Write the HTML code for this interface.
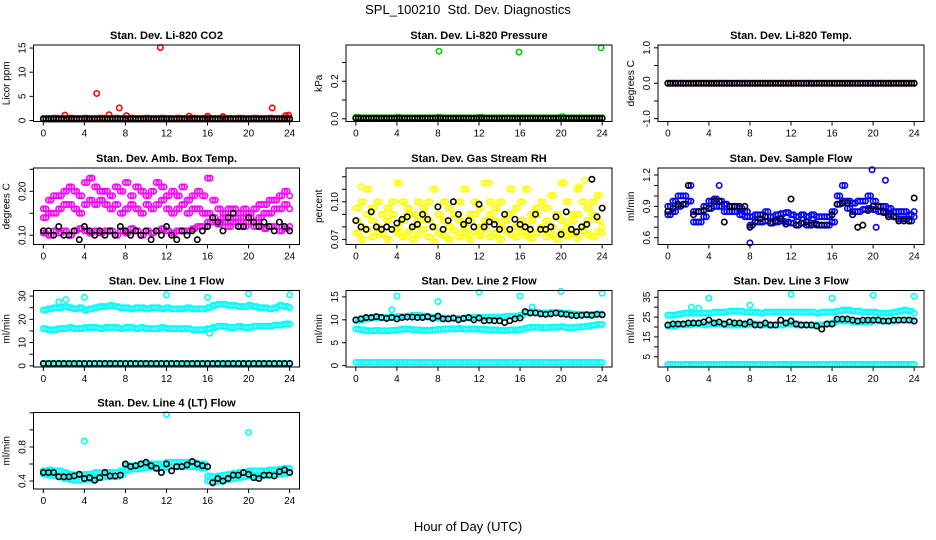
<!DOCTYPE html>
<html><head><meta charset="utf-8"><style>
html,body{margin:0;padding:0;background:#fff;}
svg{display:block;font-family:"Liberation Sans",Arial,sans-serif;}
</style></head><body>
<svg id="chart" width="936" height="540" viewBox="0 0 936 540" xmlns="http://www.w3.org/2000/svg">
<rect width="936" height="540" fill="#fff"/>
<text x="468" y="14" text-anchor="middle" font-size="13">SPL_100210&#160;&#160;Std. Dev. Diagnostics</text>
<text x="468" y="531" text-anchor="middle" font-size="13">Hour of Day (UTC)</text>
</svg>
<script>
const hours=[0,0.5,1,1.5,2,2.5,3,3.5,4,4.5,5,5.5,6,6.5,7,7.5,8,8.5,9,9.5,10,10.5,11,11.5,12,12.5,13,13.5,14,14.5,15,15.5,16,16.5,17,17.5,18,18.5,19,19.5,20,20.5,21,21.5,22,22.5,23,23.5,24];
const hoursMid=[0.25,0.75,1.25,1.75,2.25,2.75,3.25,3.75,4.25,4.75,5.25,5.75,6.25,6.75,7.25,7.75,8.25,8.75,9.25,9.75,10.25,10.75,11.25,11.75,12.25,12.75,13.25,13.75,14.25,14.75,15.25,15.75,16.25,16.75,17.25,17.75,18.25,18.75,19.25,19.75,20.25,20.75,21.25,21.75,22.25,22.75,23.25,23.75];
const xTicks=[0,4,8,12,16,20,24];
// CO2
const co2Base=[0.4,0.4,0.5,0.4,0.4,0.5,0.4,0.4,0.5,0.4,0.4,0.5,0.4,0.4,0.5,0.4,0.4,0.5,0.4,0.4,0.5,0.4,0.4,0.5,0.4,0.4,0.5,0.4,0.4,0.5,0.4,0.4,0.5,0.4,0.4,0.5,0.4,0.4,0.5,0.4,0.4,0.5,0.4,0.4,0.5,0.4,0.4,0.5,0.4];
const co2Black=[0.3,0.3,0.3,0.3,0.3,0.3,0.3,0.3,0.3,0.3,0.3,0.3,0.3,0.3,0.3,0.3,0.3,0.3,0.3,0.3,0.3,0.3,0.3,0.3,0.3,0.3,0.3,0.3,0.3,0.3,0.3,0.3,0.3,0.3,0.3,0.3,0.3,0.3,0.3,0.3,0.3,0.3,0.3,0.3,0.3,0.3,0.3,0.3,0.3];
const co2OutH=[2.1,5.2,6.4,7.4,8.1,11.4,14.2,16,17.5,22.3,23.6,23.9];
const co2OutV=[1.1,5.6,1.2,2.6,1.0,15.1,0.9,0.9,0.8,2.6,1.0,1.1];
// Pressure
const presBase=[0.008,0.005,0.005,0.005,0.005,0.005,0.005,0.005,0.008,0.005,0.005,0.005,0.005,0.005,0.005,0.005,0.008,0.005,0.005,0.005,0.005,0.005,0.005,0.005,0.008,0.005,0.005,0.005,0.005,0.005,0.005,0.005,0.005,0.005,0.005,0.005,0.005,0.005,0.005,0.005,0.01,0.005,0.005,0.005,0.005,0.005,0.005,0.005,0.005];
const presBlack=[0.003,0.003,0.003,0.003,0.003,0.003,0.003,0.003,0.003,0.003,0.003,0.003,0.003,0.003,0.003,0.003,0.003,0.003,0.003,0.003,0.003,0.003,0.003,0.003,0.003,0.003,0.003,0.003,0.003,0.003,0.003,0.003,0.003,0.003,0.003,0.003,0.003,0.003,0.003,0.003,0.003,0.003,0.003,0.003,0.003,0.003,0.003,0.003,0.003];
const presOutH=[8.1,15.9,23.9];
const presOutV=[0.36,0.355,0.378];
// Temp
const tempBase=[0,0,0,0,0,0,0,0,0,0,0,0,0,0,0,0,0,0,0,0,0,0,0,0,0,0,0,0,0,0,0,0,0,0,0,0,0,0,0,0,0,0,0,0,0,0,0,0,0];
// Amb box temp
const ambA=[0.16,0.18,0.19,0.19,0.20,0.21,0.20,0.19,0.22,0.23,0.21,0.20,0.20,0.19,0.21,0.20,0.22,0.19,0.21,0.20,0.19,0.20,0.22,0.21,0.19,0.20,0.19,0.21,0.18,0.19,0.20,0.19,0.23,0.18,0.16,0.15,0.16,0.16,0.15,0.16,0.15,0.16,0.17,0.17,0.18,0.18,0.19,0.20,0.19];
const ambB=[0.14,0.15,0.15,0.16,0.17,0.17,0.16,0.15,0.17,0.18,0.17,0.18,0.17,0.16,0.17,0.15,0.16,0.17,0.16,0.15,0.17,0.16,0.17,0.18,0.16,0.15,0.16,0.17,0.15,0.16,0.16,0.15,0.15,0.14,0.13,0.14,0.13,0.14,0.13,0.14,0.14,0.13,0.14,0.15,0.15,0.16,0.16,0.17,0.16];
const ambC=[0.105,0.10,0.11,0.105,0.11,0.10,0.11,0.115,0.11,0.105,0.11,0.105,0.11,0.11,0.10,0.11,0.105,0.115,0.11,0.10,0.11,0.105,0.11,0.115,0.11,0.105,0.11,0.11,0.11,0.115,0.12,0.12,0.13,0.13,0.125,0.13,0.12,0.13,0.12,0.12,0.13,0.12,0.12,0.115,0.12,0.12,0.11,0.115,0.12];
const ambBlack=[0.11,0.11,0.10,0.12,0.10,0.10,0.11,0.09,0.12,0.11,0.10,0.11,0.10,0.11,0.10,0.12,0.11,0.10,0.11,0.10,0.11,0.09,0.11,0.10,0.12,0.10,0.09,0.11,0.10,0.11,0.09,0.11,0.12,0.14,0.13,0.11,0.14,0.15,0.12,0.12,0.14,0.13,0.12,0.13,0.12,0.11,0.13,0.12,0.11];
// RH
const rhA=[0.095,0.10,0.11,0.095,0.10,0.09,0.095,0.10,0.115,0.10,0.095,0.09,0.10,0.095,0.10,0.11,0.09,0.10,0.095,0.09,0.10,0.11,0.09,0.10,0.095,0.115,0.10,0.095,0.10,0.09,0.11,0.095,0.10,0.11,0.09,0.095,0.10,0.095,0.105,0.09,0.115,0.10,0.09,0.11,0.10,0.095,0.10,0.105,0.095];
const rhB=[0.085,0.08,0.09,0.085,0.08,0.09,0.085,0.09,0.08,0.085,0.09,0.08,0.085,0.09,0.085,0.08,0.09,0.085,0.08,0.09,0.085,0.08,0.085,0.09,0.08,0.085,0.09,0.085,0.08,0.085,0.09,0.08,0.085,0.08,0.085,0.09,0.08,0.085,0.08,0.09,0.085,0.08,0.085,0.09,0.08,0.085,0.09,0.085,0.08];
const rhC=[0.075,0.07,0.078,0.072,0.076,0.074,0.07,0.078,0.075,0.072,0.076,0.07,0.074,0.078,0.072,0.068,0.075,0.073,0.07,0.077,0.072,0.075,0.07,0.076,0.073,0.078,0.072,0.075,0.07,0.077,0.074,0.072,0.076,0.073,0.071,0.075,0.078,0.072,0.074,0.07,0.076,0.073,0.075,0.071,0.077,0.074,0.072,0.076,0.075];
const rhBlack=[0.085,0.08,0.078,0.092,0.08,0.078,0.08,0.078,0.083,0.086,0.088,0.08,0.082,0.09,0.086,0.08,0.096,0.078,0.085,0.10,0.09,0.082,0.085,0.08,0.098,0.08,0.084,0.082,0.078,0.09,0.078,0.086,0.082,0.08,0.078,0.09,0.078,0.078,0.08,0.088,0.074,0.092,0.078,0.076,0.08,0.082,0.118,0.088,0.095];
const rhOutH=[0.5,4,13,20.3,21.8,22.3];
const rhOutV=[0.112,0.115,0.115,0.115,0.112,0.117];
// Sample flow
const sfA=[0.9,0.95,1.0,1.0,1.1,0.85,0.85,0.9,0.95,0.97,0.95,0.92,0.9,0.9,0.88,0.85,0.8,0.82,0.82,0.85,0.8,0.82,0.83,0.84,0.82,0.8,0.82,0.8,0.82,0.8,0.8,0.8,0.85,1.0,1.1,0.95,0.93,0.95,0.95,1.0,0.95,0.9,0.9,0.88,0.85,0.85,0.85,0.82,0.85];
const sfB=[0.82,0.85,0.9,0.92,0.95,0.75,0.75,0.8,0.88,0.9,0.9,0.85,0.85,0.85,0.82,0.8,0.72,0.75,0.75,0.76,0.74,0.75,0.76,0.75,0.74,0.72,0.74,0.72,0.74,0.72,0.72,0.72,0.75,0.92,0.95,0.88,0.85,0.85,0.87,0.88,0.87,0.85,0.84,0.82,0.8,0.78,0.78,0.76,0.8];
const sfBlack=[0.85,0.88,0.92,0.92,1.1,0.82,0.85,0.86,0.88,0.95,0.95,0.75,0.9,0.9,0.9,0.9,0.7,0.75,0.78,0.8,0.74,0.76,0.78,0.73,0.97,0.72,0.74,0.75,0.72,0.73,0.72,0.72,0.82,0.92,0.93,0.93,0.82,0.7,0.72,0.86,0.9,0.9,0.85,0.8,0.8,0.76,0.76,0.76,0.98];
const sfOutH=[5,8,19.9,20.3,21.2];
const sfOutV=[1.1,0.55,1.25,0.7,1.15];
// Line 1
const l1A=[24,24.5,25,25,25.5,25,24.5,25,24,24.5,25,25.5,25.5,26,25.5,25,25,24.5,25,25,24.5,25,25,24.5,25,24.5,24.5,24.5,25,24.5,24.5,24.5,25,26,26.5,26.5,26,26,25.5,25.5,26,25.5,25,25,24.5,25,26,25.5,25];
const l1B=[16,15.5,15.5,16,16,16.5,16,16,16.5,16.5,16.5,16,16.5,16.5,16.5,16,16.5,16.5,16,16.5,16,16,16,16.5,16,16,16,16,16,15.5,15.5,15.5,16,16.5,17,17,16.5,16.5,17,16.5,16.5,17,17,17,17,17.5,17.5,18,18];
const l1C=[1,1,1,1,1,1,1,1,1,1,1,1,1,1,1,1,1,1,1,1,1,1,1,1,1,1,1,1,1,1,1,1,1,1,1,1,1,1,1,1,1,1,1,1,1,1,1,1,1];
const l1OutH=[1.5,2.2,4,12,16,20,24,16.2];
const l1OutV=[27.5,28.5,29.5,30.5,29.5,31,30.5,14];
// Line 2
const l2A=[9.8,10,10.2,10.4,10.5,10.5,10.5,10.6,10.7,10.7,10.8,11,11,10.8,10.6,10.5,10.4,10.4,10.3,10.3,10.3,10.4,10.4,10.5,10.5,10.5,10.6,10.6,10.6,10.7,10.8,10.8,11,11.5,11.8,11.6,11.5,11.5,11.6,11.6,11.5,11.4,11.3,11.2,11.2,11.1,11.2,11.3,11.2];
const l2B=[8,7.8,7.6,7.6,7.7,7.6,7.6,7.7,7.8,8,8,7.8,7.8,7.7,7.7,7.8,7.9,8,8,8,8.1,8,8,8,7.9,7.9,7.8,7.8,7.7,7.7,7.8,7.8,7.9,8.2,8.4,8.4,8.3,8.3,8.4,8.4,8.5,8.3,8.3,8.4,8.5,8.6,8.8,9,9];
const l2C=[0.7,0.7,0.7,0.7,0.7,0.7,0.7,0.7,0.7,0.7,0.7,0.7,0.7,0.7,0.7,0.7,0.7,0.7,0.7,0.7,0.7,0.7,0.7,0.7,0.7,0.7,0.7,0.7,0.7,0.7,0.7,0.7,0.7,0.7,0.7,0.7,0.7,0.7,0.7,0.7,0.7,0.7,0.7,0.7,0.7,0.7,0.7,0.7,0.7];
const l2Black=[10,10.2,10.5,10.5,10.7,10.5,10.3,10.5,10.2,10.5,10.6,10.6,10.5,10.5,10.7,10.3,10.8,10.2,10.2,10.4,10,10.3,10.5,10,10.4,9.8,9.9,9.8,9.8,9.4,9.8,10.2,10.4,11.8,11.5,11.5,11.3,11.2,11.3,11.5,11.3,11.2,11,10.9,11,11.1,11,11.2,11.1];
const l2OutH=[3.5,4,8,12,16,20,24,17.2];
const l2OutV=[12.2,15.2,14,16,15.2,16.2,15.8,12.8];
// Line 3
const l3A=[26,26,26.5,27,27,27,27,27,27,27.5,27.5,27.5,28,28,28,27.5,27.5,27.5,27,27.5,27.5,27.5,27.5,27.5,27.5,27.5,27.5,27.5,27.5,27,27.5,27.5,27.5,28,28.5,28.5,28,28,27.5,27.5,27.5,27,27,27,27.5,28,28.5,28,27];
const l3B=[20.5,20.5,21,21,21,21.5,21.5,21,21.5,21.5,21.5,21,21,21,21,21,21.5,21.5,21,21,21,21,21,21.5,21.5,21,21,21,21,21,21,21.5,22,23,23,23,22.5,22.5,22.5,22.5,23,23,23,23,23,23.5,23.5,23.5,23];
const l3C=[1.2,1.2,1.2,1.2,1.2,1.2,1.2,1.2,1.2,1.2,1.2,1.2,1.2,1.2,1.2,1.2,1.2,1.2,1.2,1.2,1.2,1.2,1.2,1.2,1.2,1.2,1.2,1.2,1.2,1.2,1.2,1.2,1.2,1.2,1.2,1.2,1.2,1.2,1.2,1.2,1.2,1.2,1.2,1.2,1.2,1.2,1.2,1.2,1.2];
const l3Black=[21,21.5,21.5,21.5,22,22,22,22.5,23.5,22,22.5,21.5,22.5,22,22,21.5,22.5,21,21,22,21,21,23.5,22,23,21.5,21,21,21,20.5,19,21.5,21.5,24,24,24,23.5,23,23.5,23.5,23.5,23.5,23,23,23.5,23.5,23.5,23.5,23];
const l3OutH=[3,2.3,4,8,12,16,20,24];
const l3OutV=[29.5,30,34.5,31,36.5,34.5,36,35.5];
// Line 4
const l4A=[0.52,0.53,0.52,0.52,0.5,0.48,0.47,0.47,0.48,0.48,0.5,0.5,0.5,0.5,0.5,0.52,0.58,0.58,0.58,0.6,0.6,0.6,0.6,0.6,0.62,0.62,0.62,0.62,0.62,0.62,0.6,0.6,0.46,0.45,0.46,0.47,0.48,0.49,0.5,0.5,0.52,0.52,0.52,0.52,0.53,0.53,0.54,0.55,0.55];
const l4B=[0.48,0.47,0.46,0.45,0.43,0.42,0.41,0.41,0.42,0.42,0.43,0.44,0.45,0.45,0.45,0.47,0.53,0.54,0.54,0.55,0.56,0.56,0.55,0.56,0.56,0.57,0.57,0.57,0.57,0.57,0.56,0.55,0.40,0.39,0.4,0.41,0.42,0.43,0.44,0.45,0.46,0.46,0.46,0.47,0.47,0.48,0.48,0.49,0.5];
const l4Black=[0.5,0.5,0.5,0.45,0.45,0.45,0.46,0.48,0.43,0.44,0.41,0.44,0.5,0.46,0.46,0.47,0.6,0.57,0.58,0.6,0.62,0.58,0.55,0.5,0.6,0.52,0.57,0.57,0.59,0.63,0.6,0.58,0.57,0.38,0.43,0.4,0.43,0.47,0.47,0.5,0.48,0.44,0.43,0.47,0.47,0.46,0.51,0.53,0.5];
const l4OutH=[4,12,20];
const l4OutV=[0.87,1.18,0.97];

const NS="http://www.w3.org/2000/svg";
const svg=document.getElementById('chart');
function mk(tag,attrs,parent){const e=document.createElementNS(NS,tag);for(const k in attrs)e.setAttribute(k,attrs[k]);(parent||svg).appendChild(e);return e;}

const panels=[
 {t:"Stan. Dev. Li-820 CO2",yl:"Licor ppm",c:0,r:0,ymin:-0.21,ymax:15.63,ticks:[0,5,10,15],labels:["0","5","10","15"],
  series:[[hours,co2Base,"#ff0000",1],[co2OutH,co2OutV,"#ff0000",0],[hours,co2Black,"#000",1]]},
 {t:"Stan. Dev. Li-820 Pressure",yl:"kPa",c:1,r:0,ymin:-0.0145,ymax:0.393,ticks:[0,0.1,0.2,0.3],labels:["0.0","","0.2",""],
  series:[[hours,presBase,"#00cc00",1],[presOutH,presOutV,"#00cc00",0],[hours,presBlack,"#000",1]]},
 {t:"Stan. Dev. Li-820 Temp.",yl:"degrees C",c:2,r:0,ymin:-1.08,ymax:1.08,ticks:[-1,-0.5,0,0.5,1],labels:["-1.0","","0.0","","1.0"],
  series:[[hours,tempBase,"#ff00ff",1],[hours,tempBase,"#000",1]]},
 {t:"Stan. Dev. Amb. Box Temp.",yl:"degrees C",c:0,r:1,ymin:0.079,ymax:0.253,ticks:[0.10,0.15,0.20,0.25],labels:["0.10","","0.20",""],
  series:[[hours,ambA,"#ff00ff",1],[hours,ambB,"#ff00ff",1],[hours,ambC,"#ff00ff",1],[hours,ambBlack,"#000",0]]},
 {t:"Stan. Dev. Gas Stream RH",yl:"percent",c:1,r:1,ymin:0.0659,ymax:0.127,ticks:[0.07,0.08,0.09,0.10,0.11,0.12],labels:["0.07","","","0.10","",""],
  series:[[hours,rhA,"#ffff00",1],[hours,rhB,"#ffff00",1],[hours,rhC,"#ffff00",1],[rhOutH,rhOutV,"#ffff00",0],[hours,rhBlack,"#000",0]]},
 {t:"Stan. Dev. Sample Flow",yl:"ml/min",c:2,r:1,ymin:0.535,ymax:1.267,ticks:[0.6,0.7,0.8,0.9,1.0,1.1,1.2],labels:["0.6","","","0.9","","","1.2"],
  series:[[hours,sfA,"#0000ff",1],[hours,sfB,"#0000ff",1],[sfOutH,sfOutV,"#0000ff",0],[hours,sfBlack,"#000",0]]},
 {t:"Stan. Dev. Line 1 Flow",yl:"ml/min",c:0,r:2,ymin:-0.5,ymax:32.4,ticks:[0,5,10,15,20,25,30],labels:["0","","10","","20","","30"],
  series:[[hours,l1A,"#00ffff",1],[hours,l1B,"#00ffff",1],[hours,l1C,"#00ffff",1],[l1OutH,l1OutV,"#00ffff",0],[hours,l1C,"#000",0]]},
 {t:"Stan. Dev. Line 2 Flow",yl:"ml/min",c:1,r:2,ymin:-0.3,ymax:16.4,ticks:[0,5,10,15],labels:["0","5","10","15"],
  series:[[hours,l2A,"#00ffff",1],[hours,l2B,"#00ffff",1],[hours,l2C,"#00ffff",1],[l2OutH,l2OutV,"#00ffff",0],[hours,l2Black,"#000",0]]},
 {t:"Stan. Dev. Line 3 Flow",yl:"ml/min",c:2,r:2,ymin:-0.15,ymax:38.4,ticks:[5,10,15,20,25,30,35],labels:["5","","15","","25","","35"],
  series:[[hours,l3A,"#00ffff",1],[hours,l3B,"#00ffff",1],[hours,l3C,"#00ffff",1],[l3OutH,l3OutV,"#00ffff",0],[hours,l3Black,"#000",0]]},
 {t:"Stan. Dev. Line 4 (LT) Flow",yl:"ml/min",c:0,r:3,ymin:0.307,ymax:1.204,ticks:[0.4,0.6,0.8,1.0,1.2],labels:["0.4","","0.8","",""],
  series:[[hours,l4A,"#00ffff",1],[hours,l4B,"#00ffff",1],[l4OutH,l4OutV,"#00ffff",0],[hours,l4Black,"#000",0]]}
];
const colX=[33.5,346,658], rowY=[45,168,290.5,412.5], W=266, Hh=76.5;

panels.forEach((p,i)=>{
  const L=colX[p.c], T=rowY[p.r], R=L+W, B=T+Hh;
  const g=mk('g',{});
  
  
  const xs=h=>L+(h+0.96)/25.92*W;
  const ys=v=>B-(v-p.ymin)/(p.ymax-p.ymin)*Hh;
  const tt=mk('text',{x:(L+R)/2,y:T-6,'text-anchor':'middle','font-size':'11','font-weight':'bold'},g);
  tt.textContent=p.t;
  
  
  const yl=mk('text',{x:0,y:0,transform:`translate(${L-24},${(T+B)/2}) rotate(-90)`,'text-anchor':'middle','font-size':'10'},g);
  yl.textContent=p.yl;
  
  
  const xa=mk('g',{},g);
  
  
  mk('line',{x1:xs(0),x2:xs(24),y1:B,y2:B,stroke:'#000'},xa);
  xTicks.forEach(t=>{
    mk('line',{x1:xs(t),x2:xs(t),y1:B,y2:B+4,stroke:'#000'},xa);
    const tx=mk('text',{x:xs(t),y:B+15,'text-anchor':'middle','font-size':'10'},xa);
    tx.textContent=t;
  });
  const ya=mk('g',{},g);
  
  
  p.ticks.forEach((t,k)=>{
    mk('line',{x1:L-4,x2:L,y1:ys(t),y2:ys(t),stroke:'#000'},ya);
    if(p.labels[k]){
      const tx=mk('text',{transform:`translate(${L-8},${ys(t)}) rotate(-90)`,'text-anchor':'middle','font-size':'10'},ya);
      tx.textContent=p.labels[k];
    }
  });
  const pts=mk('g',{fill:'none','stroke-width':'1.6'},g);
  
  
  p.series.forEach(s=>{
    const [hx,vy,col,dense]=s;
    for(let j=0;j<hx.length;j++){
      const c=mk('circle',{cx:xs(hx[j]),cy:ys(vy[j]),r:2.7,stroke:col},pts);
      
      
    }
    if(dense){
      for(let j=0;j<hoursMid.length;j++){
        const c=mk('circle',{cx:xs(hoursMid[j]),cy:ys(vy[j]),r:2.7,stroke:col},pts);
        
        
      }
    }
  });
  const box=mk('rect',{x:L,y:T,width:W,height:Hh,fill:'none',stroke:'#000'},g);
  
  
});
</script>
</body></html>
